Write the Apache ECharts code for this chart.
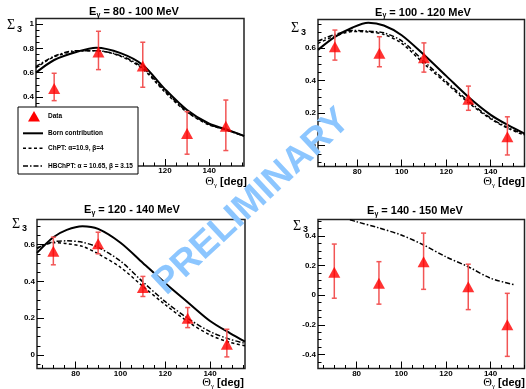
<!DOCTYPE html>
<html>
<head>
<meta charset="utf-8">
<script src="https://cdn.jsdelivr.net/npm/echarts@6/dist/echarts.min.js"></script>
<style>
  html, body { margin: 0; padding: 0; background: #fff; }
  #chart { width: 526px; height: 389px; }
</style>
</head>
<body>
<div id="chart"></div>
<script>
// photon polar angles of the measured points
const angles = [70, 90, 110, 130, 147.5];

// Sigma_3 data with error band (lo / hi) per energy bin
const sigma80 = [0.47, 0.77, 0.655, 0.10, 0.16];
const lo80 = [0.37, 0.625, 0.48, -0.07, -0.04];
const hi80 = [0.595, 0.94, 0.85, 0.28, 0.375];

const sigma100 = [0.609, 0.569, 0.541, 0.286, 0.055];
const lo100 = [0.527, 0.486, 0.453, 0.218, -0.057];
const hi100 = [0.712, 0.671, 0.633, 0.367, 0.178];

const sigma120 = [0.563, 0.605, 0.367, 0.20, 0.058];
const lo120 = [0.49, 0.55, 0.318, 0.149, -0.01];
const hi120 = [0.64, 0.667, 0.427, 0.258, 0.14];

const sigma140 = [0.155, 0.081, 0.227, 0.058, -0.2];
const lo140 = [-0.02, -0.06, 0.04, -0.097, -0.413];
const hi140 = [0.346, 0.227, 0.42, 0.21, 0.013];

// theory curves
const curveX80 = [61.8, 70, 80, 89, 100, 110, 120, 130, 140, 147.6, 155.7];
const born80 = [0.60, 0.704, 0.77, 0.805, 0.76, 0.663, 0.465, 0.293, 0.18, 0.135, 0.08];
const chpt80 = [0.64, 0.73, 0.775, 0.78, 0.735, 0.63, 0.44, 0.275, 0.17, 0.13, 0.08];
const hb80 = [0.65, 0.735, 0.78, 0.78, 0.74, 0.64, 0.45, 0.28, 0.175, 0.13, 0.08];

const curveX100 = [62.4, 70, 78, 85, 92, 100, 110, 120, 130, 140, 148, 155.2];
const born100 = [0.59, 0.67, 0.728, 0.757, 0.74, 0.68, 0.56, 0.43, 0.30, 0.19, 0.125, 0.075];
const chpt100 = [0.63, 0.675, 0.703, 0.70, 0.685, 0.63, 0.505, 0.385, 0.265, 0.165, 0.105, 0.065];
const hb100 = [0.645, 0.685, 0.71, 0.705, 0.695, 0.645, 0.52, 0.395, 0.275, 0.17, 0.11, 0.07];

const curveX120 = [62.7, 70, 76, 83, 90, 100, 110, 120, 130, 140, 149, 155.6];
const born120 = [0.555, 0.64, 0.68, 0.70, 0.685, 0.61, 0.50, 0.39, 0.287, 0.185, 0.118, 0.073];
const chpt120 = [0.58, 0.61, 0.605, 0.59, 0.55, 0.476, 0.373, 0.273, 0.182, 0.109, 0.068, 0.051];
const hb120 = [0.58, 0.615, 0.62, 0.612, 0.585, 0.51, 0.397, 0.29, 0.20, 0.127, 0.085, 0.064];

const curveX140 = [77, 80, 90, 100, 110, 120, 130, 140, 151];
const hb140 = [0.51, 0.497, 0.455, 0.407, 0.34, 0.26, 0.193, 0.115, 0.07];

// tick labels
const xTicks = [80, 100, 120, 140];
const yTicks80 = [0, 0.2, 0.4, 0.6, 0.8, 1];
const yTicks100 = [0, 0.2, 0.4, 0.6];
const yTicks120 = [0, 0.2, 0.4, 0.6];
const yTicks140 = [-0.4, -0.2, 0, 0.2, 0.4];

const titles = ["80 - 100", "100 - 120", "120 - 140", "140 - 150"];

const FONT = "Liberation Sans";

const panels = [
  { left: 36, top: 18.5, width: 208, height: 147.5, xMin: 61.8, xMax: 155.7, yMin: -0.167, yMax: 1.045,
    yTicks: yTicks80, sig: sigma80, lo: lo80, hi: hi80, cx: curveX80, born: born80, chpt: chpt80, hb: hb80 },
  { left: 318, top: 19.5, width: 206.5, height: 147, xMin: 62.4, xMax: 155.2, yMin: -0.128, yMax: 0.777,
    yTicks: yTicks100, sig: sigma100, lo: lo100, hi: hi100, cx: curveX100, born: born100, chpt: chpt100, hb: hb100 },
  { left: 37, top: 219.5, width: 208, height: 149, xMin: 62.7, xMax: 155.6, yMin: -0.073, yMax: 0.736,
    yTicks: yTicks120, sig: sigma120, lo: lo120, hi: hi120, cx: curveX120, born: born120, chpt: chpt120, hb: hb120 },
  { left: 318, top: 219.5, width: 206.5, height: 149, xMin: 62.7, xMax: 155.2, yMin: -0.495, yMax: 0.512,
    yTicks: yTicks140, sig: sigma140, lo: lo140, hi: hi140, cx: curveX140, born: null, chpt: null, hb: hb140 }
];

const xMinor = [];
for (let v = 65; v <= 155; v += 5) xMinor.push(v);

function yMinorFor(p) {
  const out = [];
  for (let k = Math.ceil(p.yMin / 0.05); k * 0.05 <= p.yMax; k++) out.push(Math.round(k * 5) / 100);
  return out;
}

const zip = (xs, ys) => xs.map((x, k) => [x, ys[k]]);

const grid = [], xAxis = [], yAxis = [], series = [];

const labelStyle = { color: "#000", fontSize: 8, fontWeight: "bold", fontFamily: FONT };
const tickLine = { color: "#000", width: 1 };

panels.forEach((p, i) => {
  grid.push({
    left: p.left, top: p.top, width: p.width, height: p.height,
    show: true, borderColor: "#222", borderWidth: 1.5, backgroundColor: "transparent",
    outerBoundsMode: "none"
  });
  const base = { gridIndex: i, type: "value", splitLine: { show: false }, axisLine: { show: false, onZero: false } };
  xAxis.push(Object.assign({}, base, {
    position: "bottom", min: p.xMin, max: p.xMax,
    axisTick: { inside: true, length: 7, customValues: xTicks, lineStyle: tickLine },
    axisLabel: Object.assign({ customValues: xTicks, margin: 1 }, labelStyle)
  }));
  xAxis.push(Object.assign({}, base, {
    position: "bottom", min: p.xMin, max: p.xMax,
    axisTick: { inside: true, length: 3.5, customValues: xMinor, lineStyle: tickLine },
    axisLabel: { show: false }
  }));
  yAxis.push(Object.assign({}, base, {
    position: "left", min: p.yMin, max: p.yMax,
    axisTick: { inside: true, length: 7, customValues: p.yTicks, lineStyle: tickLine },
    axisLabel: Object.assign({ customValues: p.yTicks, margin: 2 }, labelStyle)
  }));
  yAxis.push(Object.assign({}, base, {
    position: "left", min: p.yMin, max: p.yMax,
    axisTick: { inside: true, length: 3.5, customValues: yMinorFor(p), lineStyle: tickLine },
    axisLabel: { show: false }
  }));

  const ax = { xAxisIndex: 2 * i, yAxisIndex: 2 * i, silent: true };
  if (p.born) {
    series.push(Object.assign({ type: "line", data: zip(p.cx, p.born), symbol: "none", smooth: 0.3,
      lineStyle: { color: "#000", width: 2 }, z: 3 }, ax));
  }
  if (p.chpt) {
    series.push(Object.assign({ type: "line", data: zip(p.cx, p.chpt), symbol: "none", smooth: 0.3,
      lineStyle: { color: "#000", width: 1.5, type: [3, 2.5] }, z: 3 }, ax));
  }
  series.push(Object.assign({ type: "line", data: zip(p.cx, p.hb), symbol: "none", smooth: 0.3,
    lineStyle: { color: "#000", width: 1.5, type: [5, 2, 1.5, 2] }, z: 3 }, ax));

  // error bars
  series.push(Object.assign({
    type: "custom",
    data: angles.map((a, k) => [a, p.lo[k], p.hi[k]]),
    encode: { x: 0, y: [1, 2] },
    z: 4,
    renderItem: function (params, api) {
      const a = api.coord([api.value(0), api.value(1)]);
      const b = api.coord([api.value(0), api.value(2)]);
      const st = { stroke: "#f25555", lineWidth: 1.5 };
      return {
        type: "group",
        children: [
          { type: "line", shape: { x1: a[0], y1: a[1], x2: b[0], y2: b[1] }, style: st },
          { type: "line", shape: { x1: a[0] - 2.5, y1: a[1], x2: a[0] + 2.5, y2: a[1] }, style: st },
          { type: "line", shape: { x1: b[0] - 2.5, y1: b[1], x2: b[0] + 2.5, y2: b[1] }, style: st }
        ]
      };
    }
  }, ax));

  series.push(Object.assign({
    type: "scatter", data: zip(angles, p.sig), symbol: "triangle", symbolSize: [12, 11],
    itemStyle: { color: "#ff0000" }, z: 5
  }, ax));
});

// titles, axis names, legend and watermark
const titlePos = [[134, 12], [423, 12.5], [132, 210], [415, 211]];
const sigmaPos = [[7, 25.3], [291, 28.5], [12, 224.5], [293, 226]];
const thetaPos = [[247, 182], [525, 182], [244, 383], [525, 383]];

const graphic = [];
const richTitle = {
  m: { font: "bold 11px " + FONT, fill: "#000" },
  g: { font: "bold 7px " + FONT, fill: "#000", padding: [6, 0, 0, 0] }
};
titles.forEach((t, i) => {
  graphic.push({
    type: "text", x: titlePos[i][0], y: titlePos[i][1], z: 50,
    style: { text: "{m|E}{g|γ}{m| = " + t + " MeV}", rich: richTitle, align: "center", verticalAlign: "middle" }
  });
  graphic.push({
    type: "text", x: sigmaPos[i][0], y: sigmaPos[i][1], z: 50,
    style: { text: "Σ", font: "14px Liberation Serif", fill: "#000", align: "left", verticalAlign: "middle" }
  });
  graphic.push({
    type: "text", x: sigmaPos[i][0] + 10, y: sigmaPos[i][1] + 4, z: 50,
    style: { text: "3", font: "bold 9px " + FONT, fill: "#000", align: "left", verticalAlign: "middle" }
  });
  graphic.push({
    type: "text", x: thetaPos[i][0], y: thetaPos[i][1], z: 50,
    style: {
      text: "{t|Θ}{g|γ}{m| [deg]}", align: "right", verticalAlign: "middle",
      rich: {
        t: { font: "12px Liberation Serif", fill: "#000" },
        g: { font: "7px Liberation Serif", fill: "#000", padding: [6, 0, 0, 0] },
        m: { font: "bold 11px " + FONT, fill: "#000" }
      }
    }
  });
});

const legendFont = "bold 6.5px " + FONT;
const legendItems = [
  { type: "rect", shape: { x: 0, y: 0, width: 120, height: 67 }, style: { fill: "#fff", stroke: "#000", lineWidth: 1 } },
  { type: "polygon", shape: { points: [[10, 14.5], [22, 14.5], [16, 4]] }, style: { fill: "#ff0000" } },
  { type: "line", shape: { x1: 5, y1: 26.3, x2: 25, y2: 26.3 }, style: { stroke: "#000", lineWidth: 2 } },
  { type: "line", shape: { x1: 5, y1: 41.3, x2: 25, y2: 41.3 }, style: { stroke: "#000", lineWidth: 1.5, lineDash: [3, 2.5] } },
  { type: "line", shape: { x1: 5, y1: 59, x2: 25, y2: 59 }, style: { stroke: "#000", lineWidth: 1.5, lineDash: [5, 2, 1.5, 2] } },
  { type: "text", x: 30, y: 9.7, style: { text: "Data", font: legendFont, fill: "#000", verticalAlign: "middle" } },
  { type: "text", x: 30, y: 26.3, style: { text: "Born contribution", font: legendFont, fill: "#000", verticalAlign: "middle" } },
  { type: "text", x: 30, y: 41.3, style: { text: "ChPT: α=10.9, β=4", font: legendFont, fill: "#000", verticalAlign: "middle" } },
  { type: "text", x: 30, y: 59, style: { text: "HBChPT: α = 10.65, β = 3.15", font: legendFont, fill: "#000", verticalAlign: "middle" } }
];
graphic.push({
  type: "group", x: 18, y: 107, z: 60, zlevel: 1,
  children: legendItems.map(c => Object.assign({ z: 60, zlevel: 1 }, c))
});

graphic.push({
  type: "text", x: 252, y: 202, rotation: 43 * Math.PI / 180, z: 100, zlevel: 2,
  style: { text: "PRELIMINARY", font: "bold 37px " + FONT, fill: "#8cc6ff", align: "center", verticalAlign: "middle" }
});

const chart = echarts.init(document.getElementById("chart"));
chart.setOption({
  animation: false,
  backgroundColor: "#fff",
  grid: grid,
  xAxis: xAxis,
  yAxis: yAxis,
  series: series,
  graphic: graphic
});
</script>
</body>
</html>
